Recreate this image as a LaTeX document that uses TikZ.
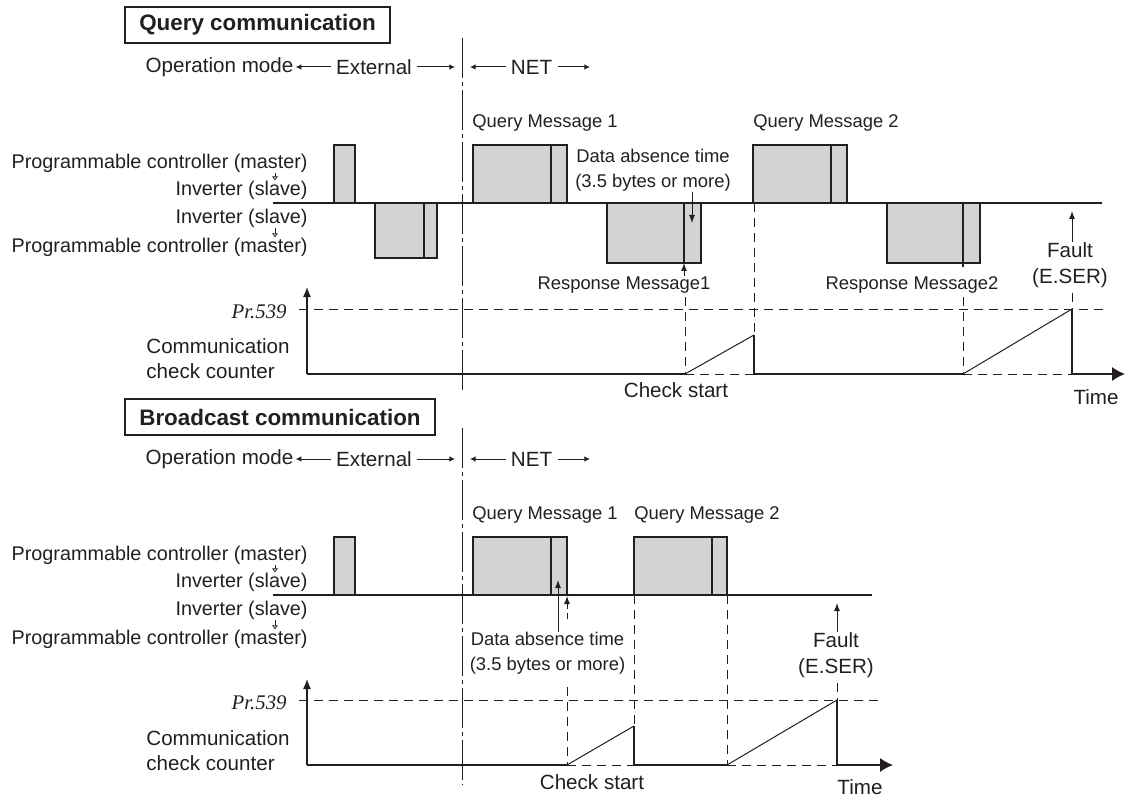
\documentclass[tikz,border=0pt]{standalone}
\usepackage{fontspec}
\setmainfont{Liberation Sans}
\newfontfamily\prfont{Liberation Serif}
\usepackage{tikz}
\usetikzlibrary{arrows.meta}
\definecolor{tcInk}{HTML}{231F20}
\definecolor{tcGray}{HTML}{D1D3D4}
\tikzset{
  signal/.style={draw=tcInk, line width=0.7pt},
  message/.style={draw=tcInk, fill=tcGray, line width=0.7pt},
  thin line/.style={draw=tcInk, line width=0.5pt},
  guide/.style={draw=tcInk, line width=0.5pt, dash pattern=on 4.5pt off 3pt},
  mode line/.style={draw=tcInk, line width=0.5pt,
    dash pattern=on 20pt off 2pt on 2pt off 2pt},
  mode arrow/.style={-{Latex[length=2.8pt,width=2.8pt]}, draw=tcInk,
    line width=0.5pt, shorten <=2.5pt, shorten >=1pt},
  pointer/.style={-{Latex[length=4pt,width=3pt]}, draw=tcInk, line width=0.5pt},
  dashed pointer/.style={pointer, dash pattern=on 3pt off 2pt},
  axis arrow/.style={-{Latex[length=5pt,width=4pt]}, draw=tcInk, line width=0.6pt},
  time arrow/.style={-{Latex[length=6.5pt,width=7pt]}, draw=tcInk, line width=0.6pt},
  tiny arrow/.style={-{Triangle[open,length=2pt,width=2.8pt]}, draw=tcInk,
    line width=0.4pt},
  title box/.style={draw=tcInk, line width=1pt, text=tcInk,
    font=\fontsize{11.2}{13}\selectfont\bfseries, inner xsep=7pt,
    minimum height=18pt},
  txt/.style={font=\fontsize{10.3}{12.8}\selectfont, text=tcInk, inner sep=0pt},
  side label/.style={font=\fontsize{9.9}{12}\selectfont, text=tcInk,
    inner sep=0pt, anchor=east},
  msg label/.style={font=\fontsize{9.2}{12.5}\selectfont, text=tcInk, inner sep=0pt},
  pr label/.style={font=\prfont\itshape\fontsize{10.4}{12}\selectfont,
    text=tcInk, inner sep=0pt, anchor=east}
}

\begin{document}
\begin{tikzpicture}[x=0.5pt, y=-0.5pt]
  \useasboundingbox (0,0) rectangle (1126,797);

  % query communication
  \node[title box] (qhead) at (257.5,25) {Query communication};
  \node[txt] (qopm) at (219.5,67) {Operation mode};
  \node[txt] (qext) at (374,67) {External};
  \node[txt] (qnet) at (531.5,67) {NET};
  \coordinate (qmodeL) at (457,67);
  \coordinate (qmodeR) at (468,67);
  \coordinate (qnetEnd) at (592,67);
  \draw[mode arrow] (qext.west) -- (qopm.east);
  \draw[mode arrow] (qext.east) -- (qmodeL);
  \draw[mode arrow] (qnet.west) -- (qmodeR);
  \draw[mode arrow] (qnet.east) -- (qnetEnd);
  \draw[mode line] (462,38) -- (462,393);

  \node[side label] (qpm1) at (308,163) {Programmable controller (master)};
  \node[side label] (qis1) at (308,190) {Inverter (slave)};
  \node[side label] (qis2) at (308,218) {Inverter (slave)};
  \node[side label] (qpm2) at (308,247) {Programmable controller (master)};
  \coordinate (qtick) at (275,0);
  \draw[tiny arrow] (qpm1.south -| qtick) -- (qis1.north -| qtick);
  \draw[tiny arrow] (qis2.south -| qtick) -- (qpm2.north -| qtick);

  \draw[signal] (273,203) -- (1102,203);
  \draw[message] (334,145) rectangle (355,203);
  \draw[message] (375,203) rectangle (437,258);
  \draw[signal] (424,203) -- (424,258);
  \draw[message] (473,145) rectangle (567,203);
  \draw[signal] (551,145) -- (551,203);
  \draw[message] (607,203) rectangle (701,263);
  \draw[signal] (684,203) -- (684,263);
  \draw[message] (753,145) rectangle (847,203);
  \draw[signal] (831,145) -- (831,203);
  \draw[message] (887,203) rectangle (980,263);
  \draw[signal] (963,203) -- (963,267);

  \node[msg label, anchor=west] (qq1) at (472,123) {Query Message 1};
  \node[msg label, anchor=west] (qq2) at (753,123) {Query Message 2};
  \node[msg label] (qr1) at (624,285) {Response Message1};
  \node[msg label] (qr2) at (912,285) {Response Message2};
  \node[msg label, align=center] (qgap) at (653,170.5)
    {Data absence time\\(3.5 bytes or more)};
  \node[txt, align=center] (qfault) at (1070,265) {Fault\\(E.SER)};
  \coordinate (qgapTip) at (692,223);
  \coordinate (qr1Tip) at (684,263);
  \coordinate (qfaultTip) at (1072,211);
  \draw[pointer] (qgap.south -| qgapTip) -- (qgapTip);
  \draw[pointer] (qr1.north -| qr1Tip) -- (qr1Tip);
  \draw[pointer] (qfault.north -| qfaultTip) -- (qfaultTip);

  \node[pr label] (qpr) at (287,312) {Pr.539};
  \node[txt, align=left, anchor=west] (qcnt) at (146,358.5)
    {Communication\\check counter};
  \draw[axis arrow] (307,374) -- (307,287);
  \draw[guide] (299,309) -- (1104,309);
  \draw[signal] (307,374) -- (685,374) (754,374) -- (963,374);
  \draw[guide] (685,374) -- (754,374) (963,374) -- (1072,374);
  \draw[thin line] (685,374) -- (754,335);
  \draw[signal] (754,335) -- (754,374);
  \draw[thin line] (963,374) -- (1072,309);
  \draw[signal] (1072,309) -- (1072,374);
  \draw[time arrow] (1072,374) -- (1125,374);
  \draw[guide] (754,203) -- (754,335);
  \draw[guide] (685,297) -- (685,374);
  \draw[guide] (963,297) -- (963,374);
  \draw[guide] (1072,293) -- (1072,309);
  \node[txt] (qcheck) at (676,390) {Check start};
  \node[txt] (qtime) at (1096,397) {Time};

  % broadcast communication
  \node[title box] (bhead) at (280,417) {Broadcast communication};
  \node[txt] (bopm) at (219.5,459) {Operation mode};
  \node[txt] (bext) at (374,459) {External};
  \node[txt] (bnet) at (531.5,459) {NET};
  \coordinate (bmodeL) at (457,459);
  \coordinate (bmodeR) at (468,459);
  \coordinate (bnetEnd) at (592,459);
  \draw[mode arrow] (bext.west) -- (bopm.east);
  \draw[mode arrow] (bext.east) -- (bmodeL);
  \draw[mode arrow] (bnet.west) -- (bmodeR);
  \draw[mode arrow] (bnet.east) -- (bnetEnd);
  \draw[mode line] (462,428) -- (462,785);

  \node[side label] (bpm1) at (308,555) {Programmable controller (master)};
  \node[side label] (bis1) at (308,582) {Inverter (slave)};
  \node[side label] (bis2) at (308,610) {Inverter (slave)};
  \node[side label] (bpm2) at (308,639) {Programmable controller (master)};
  \coordinate (btick) at (275,0);
  \draw[tiny arrow] (bpm1.south -| btick) -- (bis1.north -| btick);
  \draw[tiny arrow] (bis2.south -| btick) -- (bpm2.north -| btick);

  \draw[signal] (273,595) -- (872,595);
  \draw[message] (334,537) rectangle (355,595);
  \draw[message] (473,537) rectangle (567,595);
  \draw[signal] (551,537) -- (551,595);
  \draw[message] (634,537) rectangle (727,595);
  \draw[signal] (712,537) -- (712,595);

  \node[msg label, anchor=west] (bq1) at (472,515) {Query Message 1};
  \node[msg label, anchor=west] (bq2) at (634,515) {Query Message 2};
  \node[msg label, align=center] (bgap) at (547.5,653.5)
    {Data absence time\\(3.5 bytes or more)};
  \node[txt, align=center] (bfault) at (836,655) {Fault\\(E.SER)};
  \coordinate (bgapTip) at (558,580);
  \coordinate (bfaultTip) at (837,603);
  \draw[pointer] (bgap.north -| bgapTip) -- (bgapTip);
  \draw[dashed pointer] (567,619) -- (567,596);
  \draw[pointer] (bfault.north -| bfaultTip) -- (bfaultTip);

  \node[pr label] (bpr) at (287,703) {Pr.539};
  \node[txt, align=left, anchor=west] (bcnt) at (146,750.5)
    {Communication\\check counter};
  \draw[axis arrow] (307,765) -- (307,679);
  \draw[guide] (299,700) -- (878,700);
  \draw[signal] (307,765) -- (567,765) (634,765) -- (727,765);
  \draw[guide] (567,765) -- (634,765) (727,765) -- (837,765);
  \draw[thin line] (567,765) -- (634,726);
  \draw[signal] (634,726) -- (634,765);
  \draw[thin line] (727,765) -- (837,700);
  \draw[signal] (837,700) -- (837,765);
  \draw[time arrow] (837,765) -- (893,765);
  \draw[guide] (567,687) -- (567,765);
  \draw[guide] (634,595) -- (634,726);
  \draw[guide] (727,595) -- (727,765);
  \draw[guide] (837,683) -- (837,700);
  \node[txt] (bcheck) at (592,782) {Check start};
  \node[txt] (btime) at (860,787) {Time};
\end{tikzpicture}
\end{document}
